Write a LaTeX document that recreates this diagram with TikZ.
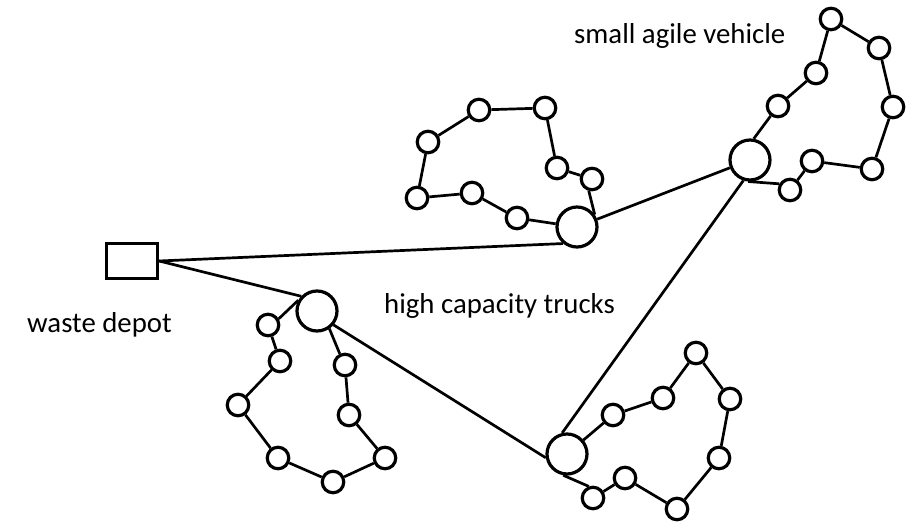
\documentclass[tikz,border=0pt]{standalone}
\usepackage{fontspec}
\setmainfont{Carlito}
\begin{document}
\begin{tikzpicture}[x=1pt,y=-1pt,
  sc/.style={circle,draw,line width=3.2pt,minimum size=21.5pt,inner sep=0pt},
  bc/.style={circle,draw,line width=3.2pt,minimum size=40pt,inner sep=0pt},
  depotbox/.style={rectangle,draw,line width=3.2pt,minimum width=51pt,minimum height=35pt,inner sep=0pt},
  lbl/.style={inner sep=0pt,anchor=base west,font=\fontsize{28.8}{32}\selectfont},
  conn/.style={line width=2.7pt}]
\useasboundingbox (0,0) rectangle (919,522);
% depot
\node[depotbox] (depot) at (132,261) {};
% big circles
\node[bc] (b1) at (577,227) {};
\node[bc] (b2) at (317,311) {};
\node[bc] (b3) at (750,160) {};
\node[bc] (b4) at (567,454) {};
% cluster 1
\node[sc] (a1) at (517,218) {};
\node[sc] (a2) at (472,193) {};
\node[sc] (a3) at (417,198) {};
\node[sc] (a4) at (428,142) {};
\node[sc] (a5) at (479,110) {};
\node[sc] (a6) at (545,108) {};
\node[sc] (a7) at (557,168) {};
\node[sc] (a8) at (592,179) {};
% cluster 2
\node[sc] (c1) at (778,106) {};
\node[sc] (c2) at (816,73) {};
\node[sc] (c3) at (831,19) {};
\node[sc] (c4) at (879,48) {};
\node[sc] (c5) at (893,107) {};
\node[sc] (c6) at (872,169) {};
\node[sc] (c7) at (812,161) {};
\node[sc] (c8) at (790,190) {};
% cluster 3
\node[sc] (d1) at (268,325) {};
\node[sc] (d2) at (280,361) {};
\node[sc] (d3) at (238,405) {};
\node[sc] (d4) at (278,458) {};
\node[sc] (d5) at (333,482) {};
\node[sc] (d6) at (385,458) {};
\node[sc] (d7) at (349,415) {};
\node[sc] (d8) at (345,365) {};
% cluster 4
\node[sc] (e1) at (613,415) {};
\node[sc] (e2) at (663,398) {};
\node[sc] (e3) at (696,353) {};
\node[sc] (e4) at (730,399) {};
\node[sc] (e5) at (719,458) {};
\node[sc] (e6) at (677,509) {};
\node[sc] (e7) at (625,478) {};
\node[sc] (e8) at (593,498) {};
% trunk lines
\draw[conn] (depot.east) -- (b1.230);
\draw[conn] (depot.east) -- (b2.137);
\draw[conn] (b1) -- (b3);
\draw[conn] (b3.252) -- (b4.103);
\draw[conn] (b2.-40) -- (b4.190);
% cluster 1 tour
\draw[conn] (b1) -- (a1) -- (a2) -- (a3) -- (a4) -- (a5) -- (a6) -- (a7) -- (a8);
\draw[conn] (a8.-105) -- (b1.35);
% cluster 2 tour
\draw[conn] (b3.80) -- (c1);
\draw[conn] (c1) -- (c2) -- (c3) -- (c4) -- (c5) -- (c6) -- (c7) -- (c8);
\draw[conn] (c8.150) -- (b3.-95);
% cluster 3 tour
\draw[conn] (b2.150) -- (d1.30);
\draw[conn] (d1) -- (d2) -- (d3) -- (d4) -- (d5) -- (d6) -- (d7) -- (d8);
\draw[conn] (d8.115) -- (b2.-55);
% cluster 4 tour
\draw[conn] (b4) -- (e1) -- (e2) -- (e3) -- (e4) -- (e5) -- (e6) -- (e7) -- (e8);
\draw[conn] (e8.110) -- (b4.-100);
% labels
\node[lbl] (lsmall) at (574,43) {small agile vehicle};
\node[lbl] (ldepot) at (27,332) {waste depot};
\node[lbl] (ltrucks) at (384,313) {high capacity trucks};
\end{tikzpicture}
\end{document}
